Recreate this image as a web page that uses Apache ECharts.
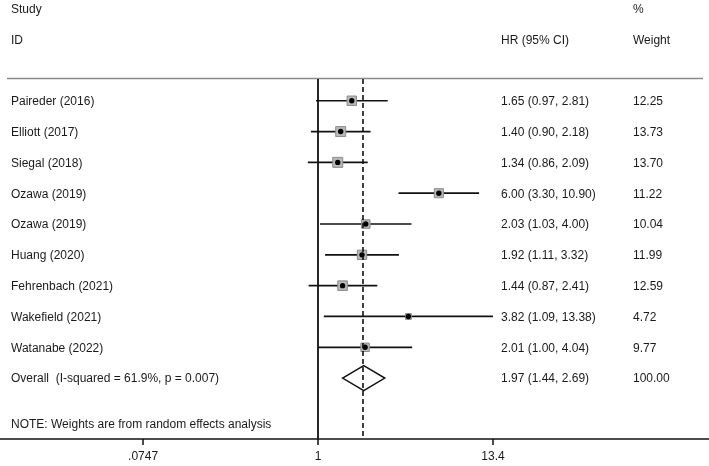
<!DOCTYPE html>
<html>
<head>
<meta charset="utf-8">
<script src="https://cdn.jsdelivr.net/npm/echarts@6/dist/echarts.min.js"></script>
<style>
html,body{margin:0;padding:0;background:#fff;}
#chart{width:709px;height:466px;}
</style>
</head>
<body>
<div id="chart"></div>
<script>
// ---- data ----
const studies = ['Paireder (2016)','Elliott (2017)','Siegal (2018)','Ozawa (2019)','Ozawa (2019)','Huang (2020)','Fehrenbach (2021)','Wakefield (2021)','Watanabe (2022)'];
const hr      = [1.65, 1.40, 1.34, 6.00, 2.03, 1.92, 1.44, 3.82, 2.01];
const ciLow   = [0.97, 0.90, 0.86, 3.30, 1.03, 1.11, 0.87, 1.09, 1.00];
const ciHigh  = [2.81, 2.18, 2.09, 10.90, 4.00, 3.32, 2.41, 13.38, 4.04];
const weights = [12.25, 13.73, 13.70, 11.22, 10.04, 11.99, 12.59, 4.72, 9.77];
const overallLabel = 'Overall  (I-squared = 61.9%, p = 0.007)';
const overallHR = 1.97, overallLow = 1.44, overallHigh = 2.69, overallWeight = 100.00;
const tickValues = [0.0747, 1, 13.4];
const tickLabels = ['.0747', '1', '13.4'];
const noteText = 'NOTE: Weights are from random effects analysis';

// ---- layout ----
const FONT = '"Liberation Sans", Arial, sans-serif';
const TXT = '#1a1a1a';
const L = Math.log10;
const n = studies.length;
const xMin = -2.048, xMax = 2.518;
const yMin = -0.706, yMax = 10.976;
const colStudy = 11, colHR = 501, colW = 633;

const chart = echarts.init(document.getElementById('chart'), null, {renderer: 'canvas'});

const ciData = hr.map((v, i) => [L(ciLow[i]), L(ciHigh[i]), i]);
const boxData = hr.map((v, i) => [L(v), i, weights[i]]);
const textRows = studies.map((s, i) => [i, s, hr[i].toFixed(2) + ' (' + ciLow[i].toFixed(2) + ', ' + ciHigh[i].toFixed(2) + ')', weights[i].toFixed(2)]);
textRows.push([n, overallLabel, overallHR.toFixed(2) + ' (' + overallLow.toFixed(2) + ', ' + overallHigh.toFixed(2) + ')', overallWeight.toFixed(2)]);
const maxW = Math.max.apply(null, weights);

const option = {
  animation: false,
  backgroundColor: '#fff',
  grid: {left: 0, right: 0, top: 79, bottom: 27, containLabel: false},
  xAxis: {
    type: 'value', min: xMin, max: xMax,
    axisLine: {show: true, onZero: false, lineStyle: {color: '#111', width: 1.6}},
    axisTick: {show: true, length: 6, lineStyle: {color: '#111', width: 1.5}, customValues: tickValues.map(L)},
    axisLabel: {
      show: true, margin: 12, color: TXT, fontFamily: FONT, fontSize: 12,
      customValues: tickValues.map(L),
      formatter: function (v) {
        let best = 0, bd = 1e9;
        tickValues.forEach((t, i) => { const d = Math.abs(L(t) - v); if (d < bd) { bd = d; best = i; } });
        return tickLabels[best];
      }
    },
    splitLine: {show: false}
  },
  yAxis: {type: 'value', inverse: true, min: yMin, max: yMax, show: false, splitLine: {show: false}},
  graphic: [
    {type: 'line', shape: {x1: 7, y1: 78.5, x2: 703, y2: 78.5}, style: {stroke: '#8a8a8a', lineWidth: 1.5}, silent: true},
    {type: 'text', x: colStudy, y: 10, style: {text: 'Study', fill: TXT, font: '12px ' + FONT, verticalAlign: 'middle'}},
    {type: 'text', x: colStudy, y: 41, style: {text: 'ID', fill: TXT, font: '12px ' + FONT, verticalAlign: 'middle'}},
    {type: 'text', x: colHR, y: 41, style: {text: 'HR (95% CI)', fill: TXT, font: '12px ' + FONT, verticalAlign: 'middle'}},
    {type: 'text', x: colW, y: 10, style: {text: '%', fill: TXT, font: '12px ' + FONT, verticalAlign: 'middle'}},
    {type: 'text', x: colW, y: 41, style: {text: 'Weight', fill: TXT, font: '12px ' + FONT, verticalAlign: 'middle'}},
    {type: 'text', x: colStudy, y: 425, style: {text: noteText, fill: TXT, font: '12px ' + FONT, verticalAlign: 'middle'}}
  ],
  series: [
    {
      type: 'custom', name: 'ci', data: ciData, encode: {x: [0, 1], y: 2}, silent: true,
      renderItem: function (params, api) {
        const a = api.coord([api.value(0), api.value(2)]);
        const b = api.coord([api.value(1), api.value(2)]);
        return {type: 'line', shape: {x1: a[0], y1: a[1], x2: b[0], y2: b[1]}, style: {stroke: '#111', lineWidth: 1.7}};
      },
      markLine: {
        silent: true, symbol: 'none', label: {show: false}, animation: false,
        data: [
          {xAxis: L(1), lineStyle: {color: '#111', width: 1.8, type: 'solid'}},
          {xAxis: L(overallHR), lineStyle: {color: '#111', width: 1.6, type: [5, 3]}}
        ]
      }
    },
    {
      type: 'custom', name: 'boxes', data: boxData, encode: {x: 0, y: 1}, silent: true,
      renderItem: function (params, api) {
        const c = api.coord([api.value(0), api.value(1)]);
        const s = 10 * Math.sqrt(api.value(2) / maxW);
        return {type: 'group', children: [
          {type: 'rect', shape: {x: c[0] - s / 2, y: c[1] - s / 2, width: s, height: s}, style: {fill: '#b8b8b8', stroke: '#8c8c8c', lineWidth: 1}},
          {type: 'circle', shape: {cx: c[0], cy: c[1], r: 2.7}, style: {fill: '#000'}}
        ]};
      }
    },
    {
      type: 'custom', name: 'overall', data: [[L(overallLow), L(overallHR), L(overallHigh), n]], encode: {x: [0, 2], y: 3}, silent: true,
      renderItem: function (params, api) {
        const l = api.coord([api.value(0), api.value(3)]);
        const m = api.coord([api.value(1), api.value(3)]);
        const r = api.coord([api.value(2), api.value(3)]);
        const h = 12.5;
        return {type: 'polygon', shape: {points: [[l[0], l[1]], [m[0], m[1] - h], [r[0], r[1]], [m[0], m[1] + h]]}, style: {fill: '#fff', stroke: '#111', lineWidth: 1.5}};
      }
    },
    {
      type: 'custom', name: 'text', data: textRows, encode: {y: 0}, silent: true,
      renderItem: function (params, api) {
        const y = api.coord([0, api.value(0)])[1] + 1;
        const row = textRows[params.dataIndex];
        const mk = (x, t) => ({type: 'text', x: x, y: y, style: {text: t, fill: TXT, font: '12px ' + FONT, verticalAlign: 'middle'}});
        return {type: 'group', children: [mk(colStudy, row[1]), mk(colHR, row[2]), mk(colW, row[3])]};
      }
    }
  ]
};
chart.setOption(option);
</script>
</body>
</html>
